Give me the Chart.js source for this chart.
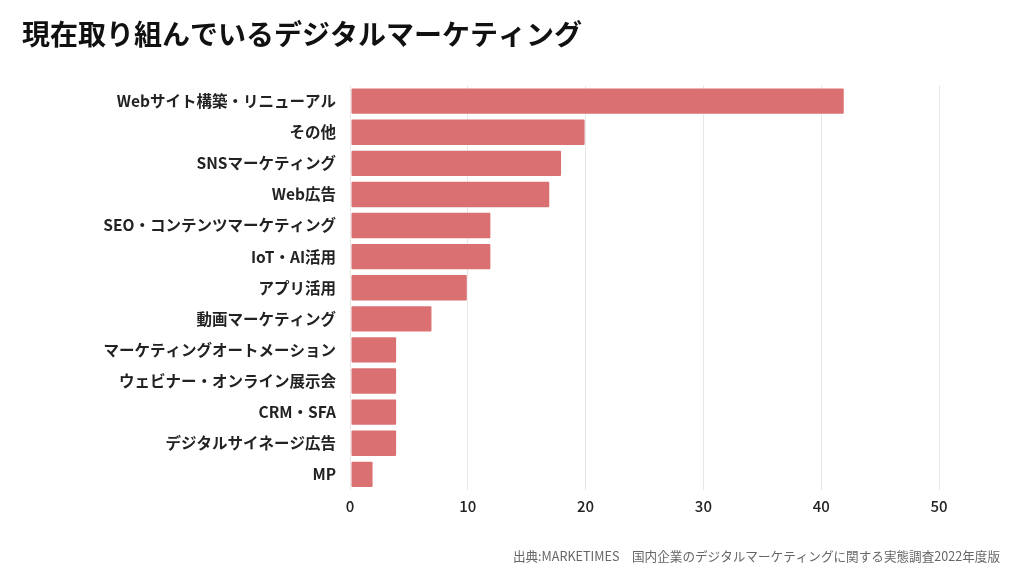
<!DOCTYPE html>
<html>
<head>
<meta charset="utf-8">
<script src="https://cdn.jsdelivr.net/npm/chart.js@4"></script>
<style>
  html, body { margin: 0; padding: 0; background: #fff; }
  #wrap { width: 1024px; height: 576px; }
</style>
</head>
<body>
<div id="wrap"><canvas id="chart"></canvas></div>
<script>
const categories = [
    'Webサイト構築・リニューアル',
    'その他',
    'SNSマーケティング',
    'Web広告',
    'SEO・コンテンツマーケティング',
    'IoT・AI活用',
    'アプリ活用',
    '動画マーケティング',
    'マーケティングオートメーション',
    'ウェビナー・オンライン展示会',
    'CRM・SFA',
    'デジタルサイネージ広告',
    'MP'
];
const counts = [42, 20, 18, 17, 12, 12, 10, 7, 4, 4, 4, 4, 2];
const xTicks = [0, 10, 20, 30, 40, 50];

const titleText = '現在取り組んでいるデジタルマーケティング';
const sourceText = '出典:MARKETIMES\u3000国内企業のデジタルマーケティングに関する実態調査2022年度版';

const jpFont = '"Noto Sans CJK JP", "Noto Sans", sans-serif';

new Chart(document.getElementById('chart').getContext('2d'), {
    type: 'bar',
    data: {
        labels: categories,
        datasets: [
            {label: '件数', data: counts, backgroundColor: 'rgb(219, 112, 115)', borderColor: 'rgba(255, 255, 255, 0.5)', borderWidth: 1, borderRadius: 2, borderSkipped: false, barPercentage: 0.88, categoryPercentage: 1}
        ]
    },
    options: {
        indexAxis: 'y',
        responsive: true,
        maintainAspectRatio: false,
        animation: false,
        layout: {
            padding: {left: 22, right: 24, top: 0, bottom: 0}
        },
        plugins: {
            legend: {display: false},
            tooltip: {enabled: false},
            title: {
                display: true,
                text: titleText,
                align: 'start',
                color: '#111',
                font: {family: jpFont, size: 28, weight: 'bold'},
                padding: {top: 18, bottom: 34}
            },
            subtitle: {
                display: true,
                position: 'bottom',
                text: sourceText,
                align: 'end',
                color: '#666',
                font: {family: jpFont, size: 12.6, weight: 'normal'},
                padding: {top: 27, bottom: 12}
            }
        },
        scales: {
            x: {
                min: 0,
                max: 50,
                afterBuildTicks: (scale) => { scale.ticks = xTicks.map(v => ({value: v})); },
                grid: {color: '#e6e6e6', drawTicks: false},
                border: {display: false},
                ticks: {color: '#222', padding: 7, font: {family: jpFont, size: 15, weight: '500'}}
            },
            y: {
                afterFit: (scale) => { scale.width = 328; },
                grid: {display: false},
                border: {display: false},
                ticks: {color: '#222', padding: 6, font: {family: jpFont, size: 15.5, weight: 'bold'}}
            },
            // empty right-hand spacer so the plot ends at 50 while the source text reaches the edge
            yRight: {
                position: 'right',
                afterFit: (scale) => { scale.width = 61; },
                grid: {display: false},
                border: {display: false},
                ticks: {display: false}
            }
        }
    }
});
</script>
</body>
</html>
